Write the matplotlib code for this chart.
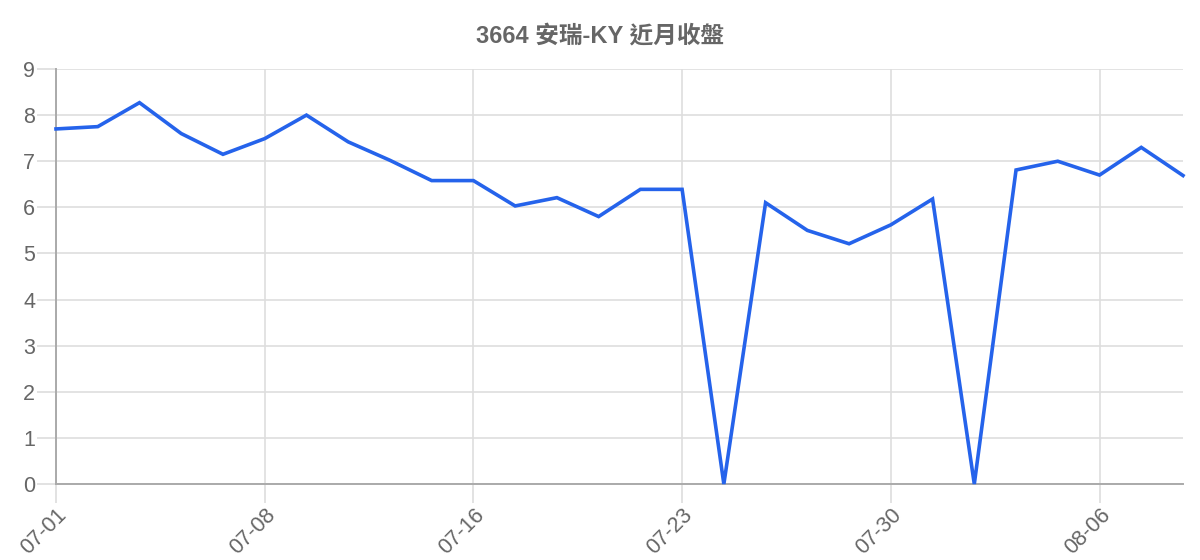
import matplotlib
matplotlib.use("Agg")
import matplotlib.pyplot as plt

dates = ["07-01", "07-02", "07-03", "07-04", "07-05", "07-08", "07-09", "07-10",
         "07-11", "07-12", "07-16", "07-17", "07-18", "07-19", "07-22", "07-23",
         "07-24", "07-25", "07-26", "07-29", "07-30", "07-31", "08-01", "08-02",
         "08-05", "08-06", "08-07", "08-08"]
closes = [7.70, 7.75, 8.27, 7.60, 7.15, 7.49, 8.00, 7.42,
          7.02, 6.58, 6.58, 6.03, 6.21, 5.80, 6.39, 6.39,
          0.00, 6.10, 5.50, 5.21, 5.62, 6.18, 0.00, 6.81,
          7.00, 6.70, 7.30, 6.69]
title = "3664 安瑞-KY 近月收盤"
y_ticks = list(range(0, 10))
label_every = 5

plt.rcParams['font.family'] = ['Liberation Sans', 'Noto Sans CJK TC', 'DejaVu Sans']

fig = plt.figure(figsize=(12, 5.6), dpi=100)
ax = fig.add_axes([56/1200, 1-484/560, (1183-56)/1200, (484-69)/560])

x = list(range(len(dates)))
ax.plot(x, closes, color='#2563eb', linewidth=2.6, solid_joinstyle='miter', zorder=3, clip_on=False)

ax.set_xlim(0, len(dates)-1)
ax.set_ylim(0, 9)
ax.set_yticks(y_ticks)
ax.set_yticklabels([str(v) for v in y_ticks])
tick_idx = x[::label_every]
ax.set_xticks(tick_idx)
ax.set_xticklabels([dates[i] for i in tick_idx], rotation=45, ha='right', va='top',
                   rotation_mode='anchor')

ax.grid(True, color='#dedede', linewidth=1.2, zorder=0)
ax.tick_params(axis='both', colors='#dddddd', length=14, width=1.2,
               labelcolor='#666666', labelsize=15.5)
ax.tick_params(axis='y', pad=1)
ax.tick_params(axis='x', pad=1)

for s in ['top', 'right']:
    ax.spines[s].set_visible(False)
for s in ['left', 'bottom']:
    ax.spines[s].set_color('#aaaaaa')
    ax.spines[s].set_linewidth(1.4)

fig.text(0.5, 1-36/560, title, ha='center', va='center', fontsize=17,
         fontweight='bold', color='#666666')

fig.savefig('out.png', dpi=100, facecolor='white')
